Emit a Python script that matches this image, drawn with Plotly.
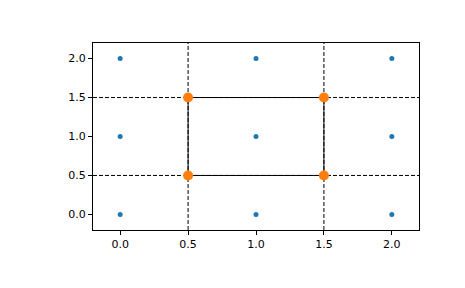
import plotly.graph_objects as go

grid_x = [0, 1, 2, 0, 1, 2, 0, 1, 2]
grid_y = [0, 0, 0, 1, 1, 1, 2, 2, 2]
cut_x = [0.5, 1.5]
cut_y = [0.5, 1.5]
rect_x = [0.5, 1.5, 1.5, 0.5, 0.5]
rect_y = [0.5, 0.5, 1.5, 1.5, 0.5]
corner_x = [0.5, 1.5, 1.5, 0.5]
corner_y = [0.5, 0.5, 1.5, 1.5]
ticks = [0.0, 0.5, 1.0, 1.5, 2.0]
tick_text = ["0.0", "0.5", "1.0", "1.5", "2.0"]

fig = go.Figure()
for xv in cut_x:
    fig.add_shape(type="line", xref="x", yref="paper", x0=xv, x1=xv, y0=0, y1=1,
                  line=dict(color="black", width=1, dash="4px,2px"), layer="below")
for yv in cut_y:
    fig.add_shape(type="line", xref="paper", yref="y", x0=0, x1=1, y0=yv, y1=yv,
                  line=dict(color="black", width=1, dash="4px,2px"), layer="below")

fig.add_trace(go.Scatter(x=grid_x, y=grid_y, mode="markers",
                         marker=dict(color="#1f77b4", size=5), cliponaxis=False))
fig.add_trace(go.Scatter(x=rect_x, y=rect_y, mode="lines",
                         line=dict(color="black", width=1)))
fig.add_trace(go.Scatter(x=corner_x, y=corner_y, mode="markers",
                         marker=dict(color="#ff7f0e", size=10)))

axis_common = dict(showgrid=False, zeroline=False, showline=True, mirror=True,
                   linecolor="black", linewidth=1, ticks="outside", ticklen=4,
                   tickwidth=1, tickcolor="black", tickvals=ticks, ticktext=tick_text,
                   tickfont=dict(family="DejaVu Sans", size=11, color="black"))
fig.update_xaxes(range=[-0.2, 2.2], **axis_common)
fig.update_yaxes(range=[-0.2, 2.2], **axis_common)
fig.update_layout(width=465, height=288, margin=dict(l=93, r=46, t=43, b=58),
                  showlegend=False, plot_bgcolor="white", paper_bgcolor="white")
fig.write_html("out.html")
